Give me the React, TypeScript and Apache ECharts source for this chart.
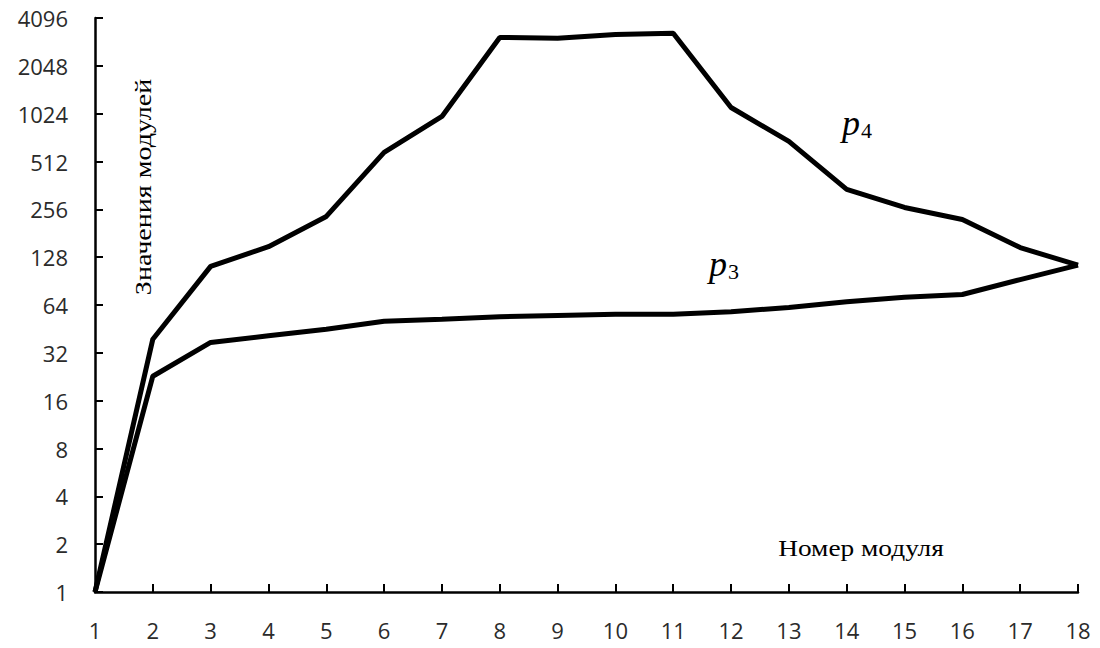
import React, { useEffect, useRef } from "react";
import * as echarts from "echarts";

const modules = ["1", "2", "3", "4", "5", "6", "7", "8", "9", "10", "11", "12", "13", "14", "15", "16", "17", "18"];
const p4Values = [1, 39, 112, 149, 231, 584, 983, 3090, 3050, 3230, 3280, 1120, 685, 342, 263, 221, 147, 114];
const p3Values = [1, 22.8, 37.2, 41, 45, 50.5, 52, 54, 55, 56, 56, 58, 61.7, 67, 71.5, 74.5, 92.5, 114];
const yTicks = [1, 2, 4, 8, 16, 32, 64, 128, 256, 512, 1024, 2048, 4096];

export default function App() {
  const ref = useRef<HTMLDivElement>(null);
  useEffect(() => {
    if (!ref.current) return;
    const chart = echarts.init(ref.current, undefined, { renderer: "svg" });
    const tickFont = { fontFamily: "Open Sans", fontSize: 22, color: "#2b2b2b" };
    const lineStyle = { color: "#000", width: 5 };
    const richP = {
      p: { fontFamily: "Liberation Serif", fontStyle: "italic", fontSize: 36, fill: "#000" },
      s: { fontFamily: "Liberation Serif", fontSize: 22, fill: "#000", padding: [14, 0, 0, 1] },
    };
    chart.setOption({
      animation: false,
      backgroundColor: "#fff",
      grid: { left: 95, right: 22, top: 18, bottom: 56 },
      xAxis: {
        type: "category",
        data: modules,
        boundaryGap: false,
        axisLine: { lineStyle: { color: "#000", width: 2.5 } },
        axisTick: { inside: true, length: 8, lineStyle: { color: "#000", width: 2 } },
        axisLabel: { ...tickFont, margin: 27, interval: 0 },
        splitLine: { show: false },
      },
      yAxis: {
        type: "log",
        logBase: 2,
        min: yTicks[0],
        max: yTicks[yTicks.length - 1],
        interval: 1,
        axisLine: { show: true, lineStyle: { color: "#000", width: 2.5 } },
        axisTick: { show: true, inside: true, length: 8, lineStyle: { color: "#000", width: 2 } },
        axisLabel: { ...tickFont, margin: 27, formatter: (v: number) => String(Math.round(v)) },
        splitLine: { show: false },
      },
      series: [
        { name: "p4", type: "line", data: p4Values, symbol: "none", lineStyle, z: 3 },
        { name: "p3", type: "line", data: p3Values, symbol: "none", lineStyle, z: 3 },
      ],
      graphic: [
        {
          type: "text",
          x: 143,
          y: 187,
          rotation: Math.PI / 2,
          scaleX: 1.22,
          style: {
            text: "Значения модулей",
            font: "23px 'Liberation Serif'",
            fill: "#000",
            align: "center",
            verticalAlign: "middle",
          },
        },
        {
          type: "text",
          x: 861,
          y: 548,
          scaleX: 1.14,
          style: {
            text: "Номер модуля",
            font: "24px 'Liberation Serif'",
            fill: "#000",
            align: "center",
            verticalAlign: "middle",
          },
        },
        {
          type: "text",
          x: 842,
          y: 105,
          style: { text: "{p|p}{s|4}", rich: richP },
        },
        {
          type: "text",
          x: 709,
          y: 246,
          style: { text: "{p|p}{s|3}", rich: richP },
        },
      ],
    });
    return () => chart.dispose();
  }, []);
  return <div ref={ref} style={{ position: "fixed", left: 0, top: 0, width: 1100, height: 648 }} />;
}
